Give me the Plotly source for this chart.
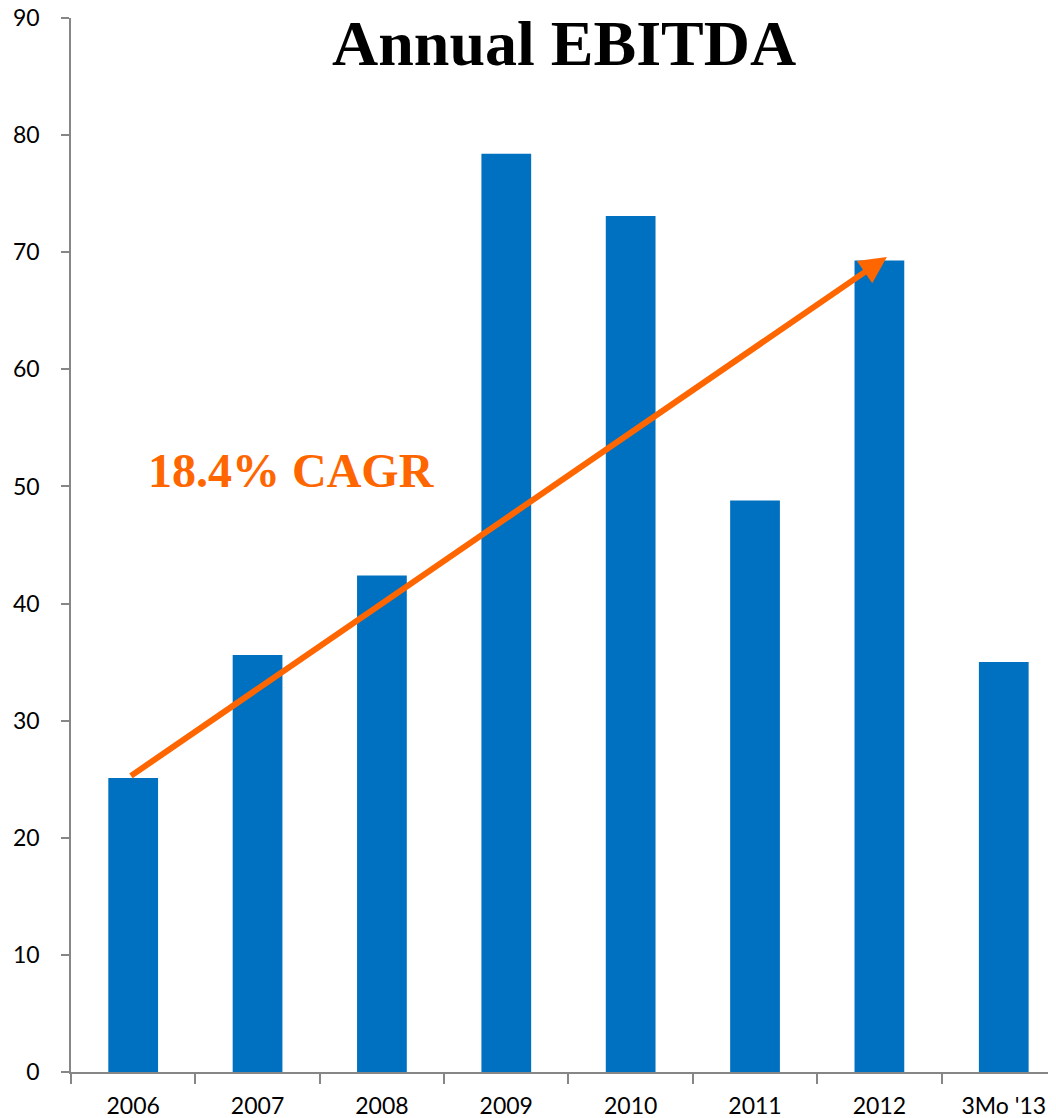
import plotly.graph_objects as go

periodos = ["2006", "2007", "2008", "2009", "2010", "2011", "2012", "3Mo '13"]
ebitda = [25.1, 35.6, 42.4, 78.4, 73.1, 48.8, 69.3, 35.0]

# Flecha CAGR: de 2006 a 2012
cagr_texto = "18.4% CAGR"
cagr_inicio = 25.2
cagr_fin = 69.6

azul = "#0070C0"
naranja = "#FF6600"
gris = "#868686"

fig = go.Figure()

fig.add_trace(go.Bar(
    x=periodos,
    y=ebitda,
    marker=dict(color=azul, line=dict(width=0)),
    width=0.4,
    showlegend=False,
))

# Flecha de tendencia
fig.add_annotation(
    x=6.06, y=cagr_fin,
    ax=-0.03, ay=cagr_inicio,
    xref="x", yref="y", axref="x", ayref="y",
    showarrow=True, arrowhead=2, arrowsize=0.9, arrowwidth=6,
    arrowcolor=naranja, text="",
)

fig.add_annotation(
    x=1.27, y=51.4, xref="x", yref="y",
    text=f"<b>{cagr_texto}</b>", showarrow=False,
    font=dict(family="Liberation Serif", size=48, color=naranja),
)

fig.add_annotation(
    x=0.5, y=1.0, xref="paper", yref="paper",
    xanchor="center", yanchor="middle",
    text="<b>Annual EBITDA</b>", showarrow=False,
    font=dict(family="Liberation Serif", size=64, color="black"),
    yshift=-25,
)

# la página añade 8 px de margen al cuerpo
fig.update_layout(
    width=1048, height=1110,
    margin=dict(l=63, r=0, t=10, b=46, autoexpand=False),
    plot_bgcolor="white", paper_bgcolor="white",
    font=dict(family="Lato", size=23, color="black"),
    xaxis=dict(
        type="category",
        range=[-0.5, 7.42],
        tickson="boundaries",
        ticks="outside", ticklen=10, tickcolor=gris, tickwidth=1.5,
        showline=True, linecolor=gris, linewidth=1.5,
        showgrid=False, zeroline=False,
        ticklabelstandoff=13,
        ticklabeloverflow="allow",
        automargin=False,
    ),
    yaxis=dict(
        range=[0, 90], dtick=10,
        showline=True, linecolor=gris, linewidth=1.5,
        ticks="outside", ticklen=8, tickcolor=gris, tickwidth=1.5,
        showgrid=False, zeroline=False,
        ticklabelstandoff=17,
        ticklabeloverflow="allow",
        automargin=False,
    ),
)

fig.write_html("out.html")
